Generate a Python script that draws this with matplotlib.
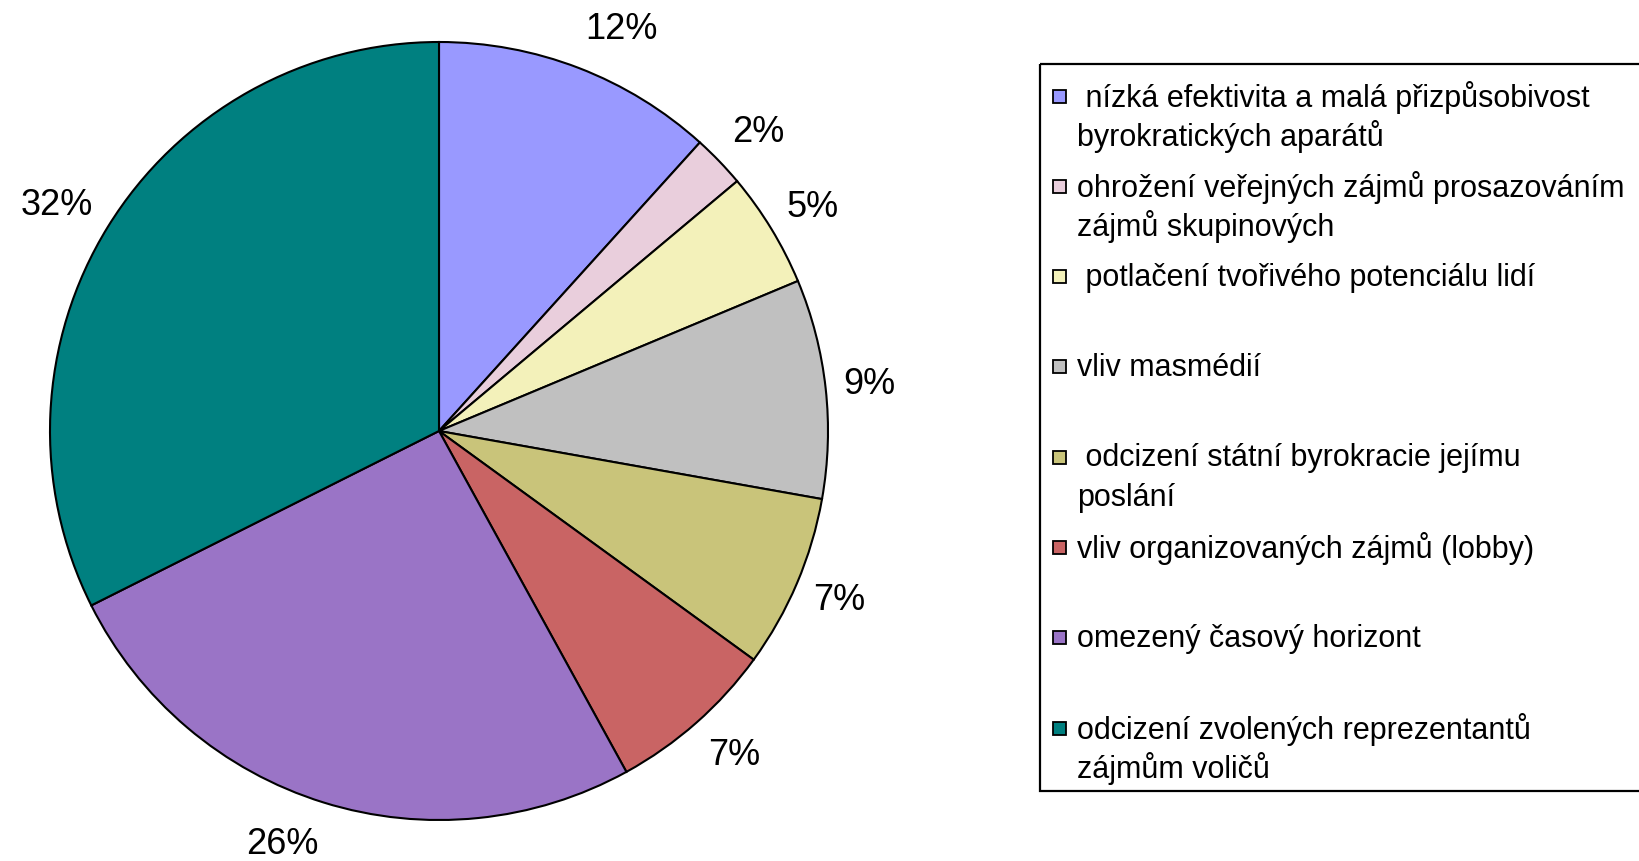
import matplotlib
matplotlib.use('Agg')
import matplotlib.pyplot as plt
import numpy as np
from matplotlib.patches import Rectangle

# slices, clockwise from 12 o'clock
categories = [
    ' nízká efektivita a malá přizpůsobivost\nbyrokratických aparátů',
    'ohrožení veřejných zájmů prosazováním\nzájmů skupinových',
    ' potlačení tvořivého potenciálu lidí',
    'vliv masmédií',
    ' odcizení státní byrokracie jejímu\nposlání',
    'vliv organizovaných zájmů (lobby)',
    'omezený časový horizont',
    'odcizení zvolených reprezentantů\nzájmům voličů',
]
shares = [11.7, 2.2, 4.8, 9.1, 7.2, 7.0, 25.6, 32.4]
pct_labels = ['12%', '2%', '5%', '9%', '7%', '7%', '26%', '32%']
colors = ['#9999FF', '#E9CEDC', '#F3F1BA', '#C0C0C0',
          '#C9C47A', '#C96464', '#9A74C6', '#008080']

W, H = 1639, 862
plt.rcParams['font.family'] = ['Liberation Sans', 'DejaVu Sans']
fig = plt.figure(figsize=(W / 100, H / 100), dpi=100)

# pie placed by its centre and radius in pixels
cx, cy, r = 439, 432, 389
ax = fig.add_axes([(cx - r) / W, (H - cy - r) / H, 2 * r / W, 2 * r / H])
wedges, _ = ax.pie(shares, colors=colors, startangle=90, counterclock=False,
                   wedgeprops=dict(edgecolor='black', linewidth=1.5))
ax.set_xlim(-1, 1)
ax.set_ylim(-1, 1)

# percentage labels outside the pie, Excel puts them a bit further out vertically
kx, ky = 1.045, 1.11
for w, lab in zip(wedges, pct_labels):
    ang = np.deg2rad((w.theta1 + w.theta2) / 2)
    x, y = np.cos(ang) * kx, np.sin(ang) * ky
    ax.text(x, y, lab, fontsize=26, va='center',
            ha='left' if x > 0 else 'right', clip_on=False)

# legend drawn by hand, Excel style (marker on the first line of each entry)
lg = fig.add_axes([0, 0, 1, 1])
lg.set_xlim(0, W)
lg.set_ylim(H, 0)
lg.axis('off')
box_x, box_top, box_bot = 1040, 65, 792
lg.add_patch(Rectangle((box_x, box_top), W - box_x + 20, box_bot - box_top,
                       fill=False, edgecolor='black', lw=1.6, clip_on=False))
row0, row_step, line_gap = 97, 90.3, 39.5
for i, (name, col) in enumerate(zip(categories, colors)):
    y = row0 + i * row_step
    lg.add_patch(Rectangle((1053, y - 6.5), 13, 13, facecolor=col,
                           edgecolor='black', lw=1.3))
    for k, line in enumerate(name.split('\n')):
        lg.text(1077, y + k * line_gap, line, fontsize=22, va='center', ha='left')

fig.savefig('out.png', dpi=100)
plt.close(fig)
